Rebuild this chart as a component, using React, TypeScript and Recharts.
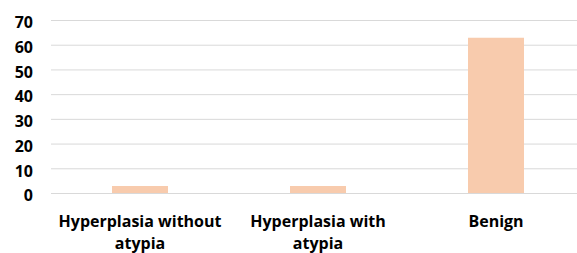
import { BarChart, Bar, XAxis, YAxis, CartesianGrid } from 'recharts';

const categories = ['Hyperplasia without atypia', 'Hyperplasia with atypia', 'Benign'];
const counts = [3, 3, 63];
const yTicks = [0, 10, 20, 30, 40, 50, 60, 70];
const labelLines: Record<string, string[]> = {
  'Hyperplasia without atypia': ['Hyperplasia without', 'atypia'],
  'Hyperplasia with atypia': ['Hyperplasia with', 'atypia'],
  Benign: ['Benign'],
};

const data = categories.map((name, i) => ({ name, value: counts[i] }));

const FONT = '"Open Sans", Calibri, sans-serif';

function XTick({ x, y, payload }: any) {
  const lines = labelLines[payload.value] || [payload.value];
  return (
    <text x={x} y={y} textAnchor="middle" fontFamily={FONT} fontWeight="bold" fontSize={16} fill="#000">
      {lines.map((l, i) => (
        <tspan key={i} x={x} dy={i === 0 ? 25 : 22}>
          {l}
        </tspan>
      ))}
    </text>
  );
}

function YTick({ y, payload }: any) {
  return (
    <text x={33} y={y} dy={7.8} textAnchor="end" fontFamily={FONT} fontWeight="bold" fontSize={16} fill="#000">
      {payload.value}
    </text>
  );
}

export default function App() {
  return (
    <div style={{ width: 577, height: 253, overflow: 'hidden', position: 'absolute', left: 0, top: 0, background: '#fff' }}>
      <BarChart
        width={593}
        height={253}
        data={data}
        barCategoryGap={0}
        margin={{ top: 20.5, right: 8, left: 0, bottom: 0 }}
      >
        <CartesianGrid vertical={false} stroke="#d9d9d9" strokeWidth={1} />
        <XAxis
          dataKey="name"
          height={59.5}
          axisLine={{ stroke: '#d9d9d9' }}
          tickLine={false}
          interval={0}
          tick={<XTick />}
        />
        <YAxis
          width={51}
          domain={[0, 70]}
          ticks={yTicks}
          axisLine={false}
          tickLine={false}
          tick={<YTick />}
        />
        <Bar dataKey="value" fill="#f8cbad" barSize={56} isAnimationActive={false} />
      </BarChart>
    </div>
  );
}
